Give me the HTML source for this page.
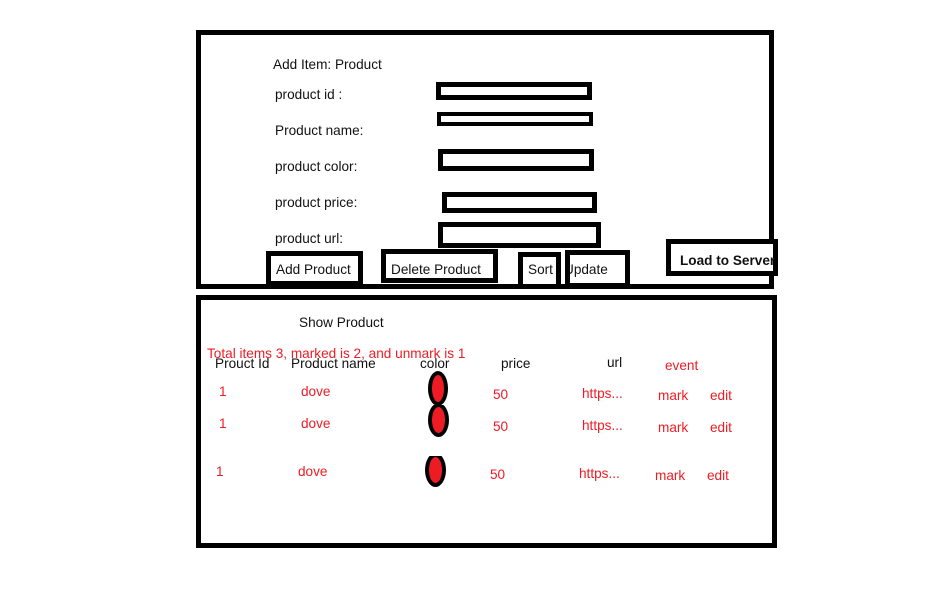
<!DOCTYPE html>
<html><head><style>
body{margin:0;width:950px;height:608px;background:#fff;position:relative;overflow:hidden;font-family:"Liberation Sans",sans-serif;font-size:13.6px;color:#111}
.b{position:absolute;border:5px solid #000;box-sizing:border-box;background:#fff}
.t{position:absolute;white-space:nowrap;line-height:16px}
.r{color:#ed1c24}
.e{position:absolute;box-sizing:border-box;border:4px solid #000;background:#ed1c24;border-radius:50%}
</style></head><body>
<div class="b" style="left:196px;top:30px;width:578px;height:259px"></div>
<div class="t" style="left:273px;top:57px">Add Item: Product</div>
<div class="t" style="left:275px;top:87px">product id :</div>
<div class="t" style="left:275px;top:123px">Product name:</div>
<div class="t" style="left:275px;top:159px">product color:</div>
<div class="t" style="left:275px;top:195px">product price:</div>
<div class="t" style="left:275px;top:231px">product url:</div>
<div class="b" style="left:436px;top:82px;width:156px;height:18px"></div>
<div class="b" style="left:437px;top:112px;width:156px;height:14px;border-width:4px"></div>
<div class="b" style="left:438px;top:149px;width:156px;height:22px"></div>
<div class="b" style="left:442px;top:192px;width:155px;height:21px"></div>
<div class="b" style="left:438px;top:222px;width:163px;height:26px"></div>
<div class="b" style="left:266px;top:251px;width:97px;height:35px"></div>
<div class="t" style="left:276px;top:262px">Add Product</div>
<div class="b" style="left:381px;top:249px;width:117px;height:34px"></div>
<div class="t" style="left:391px;top:262px">Delete Product</div>
<div class="b" style="left:565px;top:250px;width:65px;height:38px"></div>
<div style="position:absolute;left:570px;top:262px;width:55px;height:16px;overflow:hidden"><div class="t" style="left:-6px;top:0">Update</div></div>
<div class="b" style="left:518px;top:252px;width:43px;height:37px"></div>
<div class="t" style="left:528px;top:262px">Sort</div>
<div class="b" style="left:666px;top:239px;width:112px;height:37px"></div>
<div class="t" style="left:680px;top:253px;font-weight:bold">Load to Server</div>

<div class="b" style="left:196px;top:295px;width:581px;height:253px"></div>
<div class="t" style="left:299px;top:315px">Show Product</div>
<div class="t" style="left:215px;top:356px">Prouct Id</div>
<div class="t" style="left:291px;top:356px">Product name</div>
<div class="t" style="left:420px;top:356px">color</div>
<div class="t" style="left:501px;top:356px">price</div>
<div class="t" style="left:607px;top:355px">url</div>
<div class="t r" style="left:207px;top:346px">Total items 3, marked is 2, and unmark is 1</div>
<div class="t r" style="left:665px;top:358px">event</div>

<div class="t r" style="left:219px;top:384px">1</div>
<div class="t r" style="left:301px;top:384px">dove</div>
<div class="t r" style="left:493px;top:387px">50</div>
<div class="t r" style="left:582px;top:386px">https...</div>
<div class="t r" style="left:658px;top:388px">mark</div>
<div class="t r" style="left:710px;top:388px">edit</div>

<div class="t r" style="left:219px;top:416px">1</div>
<div class="t r" style="left:301px;top:416px">dove</div>
<div class="t r" style="left:493px;top:419px">50</div>
<div class="t r" style="left:582px;top:418px">https...</div>
<div class="t r" style="left:658px;top:420px">mark</div>
<div class="t r" style="left:710px;top:420px">edit</div>

<div class="t r" style="left:216px;top:464px">1</div>
<div class="t r" style="left:298px;top:464px">dove</div>
<div class="t r" style="left:490px;top:467px">50</div>
<div class="t r" style="left:579px;top:466px">https...</div>
<div class="t r" style="left:655px;top:468px">mark</div>
<div class="t r" style="left:707px;top:468px">edit</div>

<div class="e" style="left:428px;top:371px;width:20px;height:35px"></div>
<div style="position:absolute;left:425px;top:405px;width:30px;height:34px;overflow:hidden"><div class="e" style="left:3px;top:-2px;width:21px;height:34px"></div></div>
<div style="position:absolute;left:422px;top:456px;width:30px;height:34px;overflow:hidden"><div class="e" style="left:3px;top:-3px;width:21px;height:34px"></div></div>
</body></html>
